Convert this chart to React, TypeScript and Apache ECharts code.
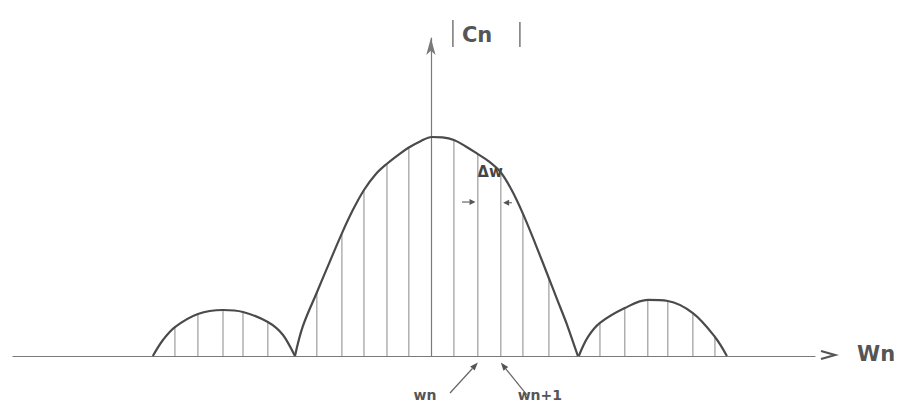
import React, { useEffect, useRef } from "react";
import * as echarts from "echarts";

// Envelope |Cn|: x in units of Δω (0 on the vertical axis), height relative to the main peak
const lobeLeft: number[][] = [
  [-12.09, 0], [-11.65, 0.073], [-11.13, 0.132], [-10.13, 0.192], [-9.04, 0.21],
  [-8.17, 0.201], [-7.09, 0.155], [-6.43, 0.096], [-5.91, 0],
];
const lobeMain: number[][] = [
  [-5.91, 0], [-5.57, 0.135], [-4.96, 0.29], [-4.4, 0.43], [-3.87, 0.56],
  [-3.4, 0.665], [-2.91, 0.758], [-2.4, 0.83], [-1.91, 0.878], [-1.4, 0.92],
  [-0.96, 0.952], [-0.45, 0.981], [0.04, 1.0], [0.5, 0.998], [1.0, 0.986],
  [1.5, 0.958], [2.04, 0.922], [2.5, 0.89], [3.04, 0.838], [3.5, 0.76],
  [4.0, 0.65], [4.55, 0.51], [5.13, 0.355], [5.5, 0.255], [5.91, 0.145], [6.39, 0],
];
const lobeRight: number[][] = [
  [6.43, 0], [6.83, 0.087], [7.35, 0.151], [8.43, 0.219], [9.43, 0.256],
  [10.3, 0.251], [11.39, 0.196], [12.35, 0.087], [12.87, 0],
];
// Spectral lines (harmonics)
const stemX: number[] = [
  -11.13, -10.13, -9.04, -8.17, -7.09,
  -4.96, -3.87, -2.91, -1.91, -0.96, 1.0, 2.04, 3.04, 4.0, 5.13,
  7.35, 8.43, 9.43, 10.3, 11.39, 12.35,
];
const stemH: number[] = [
  0.132, 0.192, 0.21, 0.201, 0.155,
  0.29, 0.56, 0.758, 0.878, 0.952, 0.986, 0.922, 0.838, 0.65, 0.355,
  0.151, 0.219, 0.256, 0.251, 0.196, 0.087,
];
const wnX = 2.04;
const wn1X = 3.04;
const labels = { y: "Cn", x: "Wn", delta: "Δw", wn: "wn", wn1: "wn+1" };

const INK = "#4a4a4a";
const FONT = "'DejaVu Sans', sans-serif";

export default function App() {
  const ref = useRef<HTMLDivElement>(null);
  useEffect(() => {
    document.body.style.margin = "0";
    const chart = echarts.init(ref.current!, null, { renderer: "svg" });
    const line = (data: number[][]) => ({
      type: "line",
      data,
      smooth: 0.35,
      showSymbol: false,
      symbol: "none",
      lineStyle: { color: INK, width: 2.2 },
      z: 3,
      silent: true,
    });
    chart.setOption({
      animation: false,
      backgroundColor: "#ffffff",
      grid: { left: 13, right: 86, top: 38, bottom: 49 },
      xAxis: {
        type: "value",
        min: -18.17,
        max: 16.7,
        axisLine: { show: true, onZero: true, lineStyle: { color: "#7a7a7a", width: 1.2 } },
        axisTick: { show: false },
        axisLabel: { show: false },
        splitLine: { show: false },
      },
      yAxis: {
        type: "value",
        min: 0,
        max: 1.452,
        axisLine: {
          show: true,
          onZero: true,
          symbol: ["none", "arrow"],
          symbolSize: [7, 17],
          lineStyle: { color: "#7a7a7a", width: 1.2 },
        },
        axisTick: { show: false },
        axisLabel: { show: false },
        splitLine: { show: false },
      },
      series: [
        {
          type: "bar",
          data: stemX.map((x, i) => [x, stemH[i]]),
          barWidth: 1.2,
          itemStyle: { color: "#9c9c9c" },
          z: 2,
          silent: true,
        },
        line(lobeLeft),
        line(lobeMain),
        line(lobeRight),
      ],
    });

    const px = (x: number, y: number) => chart.convertToPixel({ gridIndex: 0 }, [x, y]) as number[];
    const arrow = (tail: number[], tip: number[], len = 8, half = 3) => {
      const dx = tip[0] - tail[0];
      const dy = tip[1] - tail[1];
      const d = Math.hypot(dx, dy) || 1;
      const ux = dx / d, uy = dy / d;
      const bx = tip[0] - ux * len, by = tip[1] - uy * len;
      return [
        { type: "line", shape: { x1: tail[0], y1: tail[1], x2: bx, y2: by }, style: { stroke: "#666", lineWidth: 1.2 } },
        {
          type: "polygon",
          shape: { points: [tip, [bx - uy * half, by + ux * half], [bx + uy * half, by - ux * half]] },
          style: { fill: "#555" },
        },
      ];
    };
    const axisEnd = px(16.7, 0);
    const yTop = px(0, 1.452);
    const deltaPos = px(2.57, 0.84);
    const wnTip = px(wnX, -0.03);
    const wnTail = px(0.83, -0.169);
    const wn1Tip = px(wn1X, -0.03);
    const wn1Tail = px(4.17, -0.178);
    const dl = px(1.35, 0.703);
    const dlTip = px(wnX - 0.1, 0.703);
    const dr = px(3.52, 0.7);
    const drTip = px(wn1X + 0.1, 0.7);

    chart.setOption({
      graphic: [
        // x axis open arrow ">"
        {
          type: "polyline",
          shape: { points: [[axisEnd[0] + 6, axisEnd[1] - 5], [axisEnd[0] + 20, axisEnd[1] - 1], [axisEnd[0] + 6, axisEnd[1] + 3]] },
          style: { stroke: "#555", lineWidth: 2.2, fill: null },
        },
        {
          type: "text",
          x: axisEnd[0] + 42,
          y: axisEnd[1] - 2,
          style: { text: labels.x, font: `bold 21px ${FONT}`, fill: "#555", align: "left", verticalAlign: "middle" },
        },
        // |Cn| label
        { type: "line", shape: { x1: yTop[0] + 22, y1: yTop[1] - 18, x2: yTop[0] + 22, y2: yTop[1] + 9 }, style: { stroke: "#777", lineWidth: 1.5 } },
        {
          type: "text",
          x: yTop[0] + 31,
          y: yTop[1] - 3,
          style: { text: labels.y, font: `bold 21px ${FONT}`, fill: "#555", align: "left", verticalAlign: "middle" },
        },
        { type: "line", shape: { x1: yTop[0] + 89, y1: yTop[1] - 16, x2: yTop[0] + 89, y2: yTop[1] + 9 }, style: { stroke: "#777", lineWidth: 1.5 } },
        // Δw
        {
          type: "text",
          x: deltaPos[0],
          y: deltaPos[1],
          style: { text: labels.delta, font: `bold 15px ${FONT}`, fill: "#444", align: "center", verticalAlign: "middle" },
        },
        ...arrow(dl, dlTip, 6, 3),
        ...arrow(dr, drTip, 6, 3),
        // wn, wn+1
        ...arrow(wnTail, wnTip, 8, 3),
        ...arrow(wn1Tail, wn1Tip, 8, 3),
        {
          type: "text",
          x: wnTail[0] - 25,
          y: 395,
          style: { text: labels.wn, font: `bold 14px ${FONT}`, fill: "#555", align: "center", verticalAlign: "middle" },
        },
        {
          type: "text",
          x: wn1Tail[0] + 13,
          y: 395,
          style: { text: labels.wn1, font: `bold 14px ${FONT}`, fill: "#555", align: "center", verticalAlign: "middle" },
        },
      ],
    });
    return () => chart.dispose();
  }, []);
  return <div ref={ref} style={{ width: 901, height: 405 }} />;
}
